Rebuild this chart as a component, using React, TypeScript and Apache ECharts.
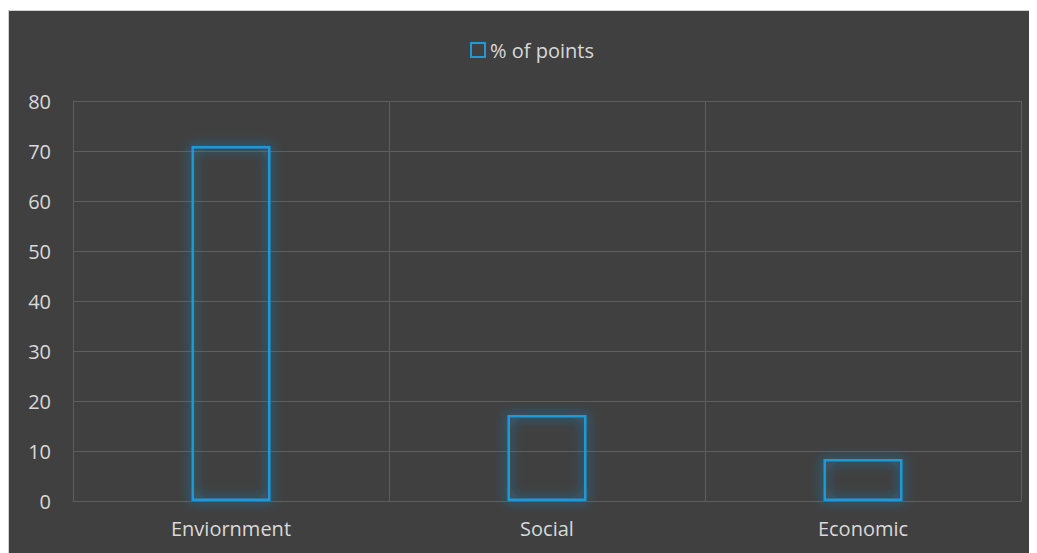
import React, { useEffect, useRef } from "react";
import * as echarts from "echarts";

const categories = ["Enviornment", "Social", "Economic"];
const pointsPct = [71, 17.2, 8.4];
const seriesName = "% of points";
const yMin = 0;
const yMax = 80;
const yInterval = 10;

export default function App() {
  const ref = useRef<HTMLDivElement>(null);
  useEffect(() => {
    if (!ref.current) return;
    const chart = echarts.init(ref.current, undefined, { renderer: "svg" });
    const font = "'Open Sans', 'Noto Sans', sans-serif";
    const blue = "#1f9ad6";
    chart.setOption({
      animation: false,
      backgroundColor: "#404040",
      textStyle: { fontFamily: font },
      legend: {
        data: [seriesName],
        top: 24,
        left: 456,
        itemWidth: 14,
        itemHeight: 14,
        itemGap: 6,
        icon: "rect",
        itemStyle: { color: "transparent", borderColor: blue, borderWidth: 2 },
        textStyle: { color: "#d9d9d9", fontSize: 20, fontFamily: font },
      },
      grid: { left: 64, right: 16, top: 90, bottom: 52, containLabel: false },
      xAxis: {
        type: "category",
        data: categories,
        axisLine: { show: true, lineStyle: { color: "#5e5e5e", width: 1 } },
        axisTick: { show: false },
        splitLine: { show: true, lineStyle: { color: "#5e5e5e", width: 1 } },
        axisLabel: { color: "#d9d9d9", fontSize: 20, margin: 17, fontFamily: font },
      },
      yAxis: {
        type: "value",
        min: yMin,
        max: yMax,
        interval: yInterval,
        axisLine: { show: true, lineStyle: { color: "#5e5e5e", width: 1 } },
        axisTick: { show: false },
        splitLine: { show: true, lineStyle: { color: "#5e5e5e", width: 1 } },
        axisLabel: { color: "#d9d9d9", fontSize: 20, margin: 22, fontFamily: font },
      },
      series: [
        {
          name: seriesName,
          type: "bar",
          data: pointsPct,
          barWidth: "25%",
          itemStyle: {
            color: "rgba(64,64,64,0.0)",
            borderColor: blue,
            borderWidth: 2.5,
            shadowBlur: 12,
            shadowColor: "rgba(30,150,230,1)",
          },
        },
      ],
    });
    return () => chart.dispose();
  }, []);
  return (
    <div
      ref={ref}
      style={{
        width: 1029,
        height: 543,
        marginTop: 2,
        boxSizing: "border-box",
        borderLeft: "1px solid #d0d0d0",
        borderTop: "1px solid #d0d0d0",
      }}
    />
  );
}
